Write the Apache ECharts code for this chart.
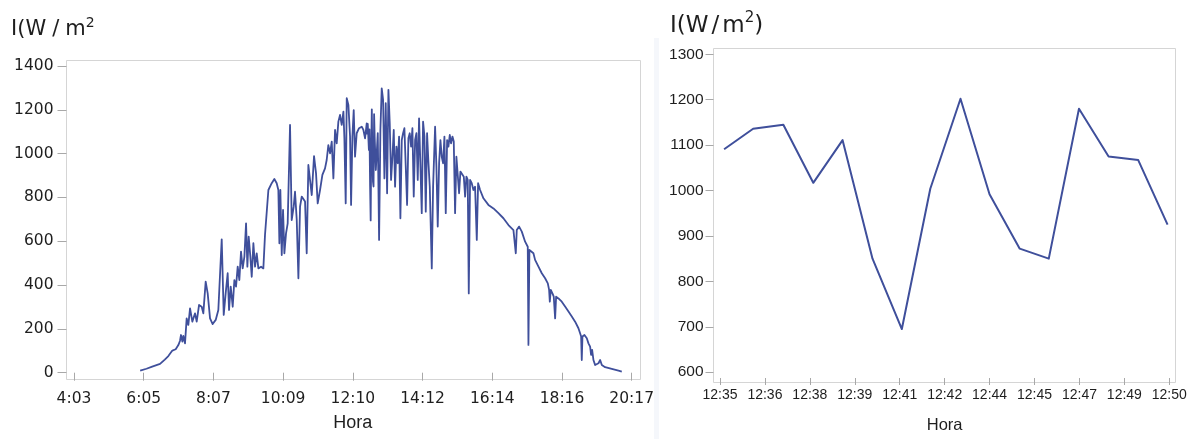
<!DOCTYPE html>
<html>
<head>
<meta charset="utf-8">
<script src="https://cdn.jsdelivr.net/npm/echarts@6/dist/echarts.min.js"></script>
<style>
html,body{margin:0;padding:0;background:#fff;}
#c{width:1197px;height:439px;}
</style>
</head>
<body>
<div id="c"></div>
<script>
// ---------- DATA ----------
// Left chart: whole day. Time in minutes after midnight, irradiance in W/m2.
const dayTime = [
  359, 370, 380, 393.7, 402, 408.2, 415.2, 421, 425.7, 428.6,
  430.3, 432.7, 434.4, 437.3, 440.2, 443.1, 446.1, 450.1, 454.8, 457.7,
  461.8, 466.4, 469.3, 473.4, 476.9, 481, 485.6, 490.9, 495.5, 498.5,
  501.4, 504.9, 508.3, 511.8, 514.2, 517.1, 520.6, 523.5, 526.4, 529.3,
  532.2, 535.1, 538, 541, 543.9, 546.2, 548.5, 551.4, 553.8, 556.7,
  559.6, 562.5, 565.4, 570.1, 574.1, 577, 580, 582.9, 588.7, 593.3,
  597.4, 600.3, 602.1, 603.8, 606.2, 608.5, 610.8, 613.7, 616.6, 620.7,
  623.6, 627.1, 629.4, 632.4, 635.3, 638.2, 641.1, 644, 646.9, 649.8,
  652.7, 655.6, 658.6, 662.6, 666.1, 669, 673.1, 677.2, 681.8, 684.7,
  687.6, 690.6, 693.5, 696.4, 699.3, 702.2, 705.1, 708, 710.9, 713.9,
  715.6, 717.9, 719.7, 722.6, 725.5, 727.3, 729.6, 731.9, 734.2, 737.1,
  741.2, 745.9, 748.8, 751.7, 754.6, 755.4, 756.4, 757.4, 758.4, 759.4,
  760.5, 761.5, 762.4, 763.5, 764.4, 765.5, 766.5, 767.5, 768.5, 769.5,
  770.5, 773.9, 776.2, 778.5, 780.8, 783.2, 785.5, 787.8, 790.2, 792.5,
  794.8, 797.1, 799.5, 801.8, 804.1, 806.5, 808.8, 811.1, 813.4, 815.8,
  818.1, 820.4, 822.8, 825.1, 827.4, 829.7, 832.1, 834.4, 836.7, 839.1,
  841.4, 843.7, 846, 848.4, 850.7, 853, 855.4, 857.7, 860, 862.3,
  864.7, 868.2, 870.5, 874, 876.3, 878.6, 881, 883.3, 885.6, 888,
  890.3, 892.6, 895, 897.3, 899.6, 901.9, 904.3, 906.6, 908.9, 911.2,
  913.6, 915.9, 918.2, 920.6, 924.1, 926.4, 928.7, 931, 932.8, 935.1,
  938, 940.9, 943.8, 946.8, 949.1, 952.6, 958.4, 967.1, 975.9, 984.6,
  993.3, 1002.1, 1010.8, 1013.7, 1014.9, 1016.6, 1020.7, 1025.4, 1031.2, 1034.1,
  1035.8, 1037, 1038.7, 1041.7, 1045.7, 1048.6, 1054.5, 1060.3, 1066.1, 1070.8,
  1073.1, 1074.3, 1076, 1078.9, 1081.2, 1083.6, 1085.3, 1089.4, 1095.2, 1101,
  1106.9, 1112.7, 1118.5, 1124.3, 1127.2, 1129, 1130.1, 1131.3, 1134.8, 1138.9,
  1141.8, 1144.7, 1146.4, 1148.2, 1150.5, 1153.4, 1156.3, 1159.3, 1162.2, 1165.1,
  1170.9, 1182.5, 1194.2, 1200
];
const dayIrr = [
  9, 18, 28, 40, 60, 76, 101, 107, 126, 146,
  172, 142, 168, 134, 248, 218, 294, 233, 271, 233,
  309, 301, 271, 416, 362, 248, 222, 241, 286, 286,
  609, 264, 362, 454, 286, 393, 301, 423, 393, 484,
  423, 553, 476, 530, 682, 484, 621, 530, 438, 591,
  484, 545, 476, 484, 476, 629, 636, 834, 865, 884,
  865, 834, 591, 834, 537, 743, 545, 636, 682, 1131,
  697, 758, 826, 697, 431, 758, 804, 811, 781, 545,
  948, 880, 811, 989, 910, 773, 834, 903, 933, 971,
  1039, 1001, 1055, 887, 1108, 1047, 1146, 1177, 1131, 1192,
  1070, 773, 1253, 1222, 1078, 766, 1078, 1199, 986, 1093,
  1116, 1123, 1108, 1070, 1138, 1091, 1136, 1145, 1017, 1111,
  850, 695, 1004, 1202, 992, 872, 850, 1180, 1075, 1067,
  925, 1093, 606, 1108, 1298, 1245, 887, 1230, 819, 1291,
  1138, 880, 986, 1108, 849, 1032, 956, 1078, 705, 1062,
  1093, 1116, 1108, 766, 1070, 1093, 1032, 1116, 804, 1062,
  1093, 880, 1161, 1154, 728, 1146, 1078, 735, 1093, 963,
  849, 476, 849, 1123, 941, 667, 956, 1062, 986, 956,
  1078, 728, 1062, 1032, 1085, 1047, 1078, 1055, 728, 986,
  994, 819, 918, 910, 895, 804, 895, 880, 362, 880,
  865, 834, 849, 606, 865, 834, 796, 766, 750, 728,
  705, 674, 651, 644, 545, 651, 667, 644, 598, 591,
  575, 127, 560, 568, 545, 515, 484, 454, 431, 408,
  378, 324, 378, 362, 347, 248, 347, 339, 324, 302,
  279, 256, 233, 203, 180, 165, 58, 165, 172, 157,
  134, 119, 81, 104, 58, 35, 35, 43, 58, 35,
  25, 17, 9, 5
];
// Right chart: 12:35 - 12:50 detail. Time in minutes after midnight.
const zoomTime = [755.39, 756.38, 757.41, 758.43, 759.43, 760.45, 761.45, 762.42,
                  763.45, 764.44, 765.47, 766.46, 767.49, 768.50, 769.51, 770.51];
const zoomIrr  = [1091, 1136, 1145, 1017, 1111, 850, 695, 1004,
                  1202, 992, 872, 850, 1180, 1075, 1067, 925];

// Tick labels
const dayTickLabels  = ['4:03', '6:05', '8:07', '10:09', '12:10', '14:12', '16:14', '18:16', '20:17'];
const zoomTickLabels = ['12:35', '12:36', '12:38', '12:39', '12:41', '12:42', '12:44', '12:45', '12:47', '12:49', '12:50'];
const dayYTicks  = [0, 200, 400, 600, 800, 1000, 1200, 1400];
const zoomYTicks = [600, 700, 800, 900, 1000, 1100, 1200, 1300];

// Axis time ranges (minutes after midnight): first tick and tick step
const DAY_STEP = 121.73, DAY_MIN = 2 * DAY_STEP;           // 4:03:28
const ZOOM_MIN = 755.25, ZOOM_STEP = ZOOM_MIN / 493;      // 12:35:15, ~1.532 min

// ---------- CHART ----------
const LINE = '#3f4f9b';
const TXT = '#1e1e1e';
const TICK = '#a8a8a8';
const FRAME = '#d5d5d5';

function pairs(xs, ys) { return xs.map((x, i) => [x, ys[i]]); }
const plain = v => String(Math.round(v));

function titleRich(size, supSize, lh, supLh, gap) {
  const base = {fontFamily: 'DejaVu Sans', fontWeight: 'normal', color: TXT};
  return {
    a: Object.assign({fontSize: size, lineHeight: lh}, base),
    p: Object.assign({fontSize: size, lineHeight: lh, padding: [0, gap, 0, gap]}, base),
    s: Object.assign({fontSize: supSize, lineHeight: supLh, verticalAlign: 'top'}, base)
  };
}

const chart = echarts.init(document.getElementById('c'), null, {renderer: 'canvas'});
const option = {
  animation: false,
  backgroundColor: '#ffffff',
  title: [
    {
      text: '{a|I(W}{p|/}{a|m}{s|2}',
      left: 11, top: 16, padding: 0,
      textStyle: {fontWeight: 'normal', rich: titleRich(21, 14, 27, 10, 6)}
    },
    {
      text: '{a|I(W}{p|/}{a|m}{s|2}{a|)}',
      left: 670, top: 11, padding: 0,
      textStyle: {fontWeight: 'normal', rich: titleRich(23, 15, 30, 12, 3)}
    }
  ],
  graphic: [
    {type: 'rect', silent: true, z: -1,
     shape: {x: 654, y: 38, width: 5, height: 401},
     style: {fill: '#f5f7fb'}},
    {type: 'rect', silent: true, z: 0,
     shape: {x: 66.5, y: 60.5, width: 574, height: 319},
     style: {fill: 'none', stroke: FRAME, lineWidth: 1}},
    {type: 'rect', silent: true, z: 0,
     shape: {x: 713.5, y: 48.5, width: 462, height: 334},
     style: {fill: 'none', stroke: FRAME, lineWidth: 1}}
  ],
  grid: [
    {left: 74, right: 565.3, top: 66, bottom: 66.3},
    {left: 720, right: 27.7, top: 54.3, bottom: 62.3}
  ],
  xAxis: [
    {
      gridIndex: 0, type: 'value',
      min: DAY_MIN, max: DAY_MIN + 8 * DAY_STEP - 1e-6, interval: DAY_STEP,
      offset: 6.8,
      name: 'Hora', nameLocation: 'middle', nameGap: 35,
      nameTextStyle: {fontFamily: 'Liberation Sans', fontSize: 18, color: TXT},
      axisLine: {show: false},
      axisTick: {show: true, length: 8, lineStyle: {color: TICK, width: 1}},
      axisLabel: {
        margin: 11, fontFamily: 'DejaVu Sans', fontSize: 15.5, color: TXT,
        showMinLabel: true, showMaxLabel: true,
        formatter: v => dayTickLabels[Math.round((v - DAY_MIN) / DAY_STEP)] || ''
      },
      splitLine: {show: false}
    },
    {
      gridIndex: 1, type: 'value',
      min: ZOOM_MIN, max: ZOOM_MIN + 10 * ZOOM_STEP - 1e-6, interval: ZOOM_STEP,
      offset: 5.8,
      name: 'Hora', nameLocation: 'middle', nameGap: 39,
      nameTextStyle: {fontFamily: 'Liberation Sans', fontSize: 16.5, color: TXT},
      axisLine: {show: false},
      axisTick: {show: true, length: 7, lineStyle: {color: TICK, width: 1}},
      axisLabel: {
        margin: 10, fontFamily: 'Liberation Sans', fontSize: 14, color: TXT,
        showMinLabel: true, showMaxLabel: true,
        formatter: v => zoomTickLabels[Math.round((v - ZOOM_MIN) / ZOOM_STEP)] || ''
      },
      splitLine: {show: false}
    }
  ],
  yAxis: [
    {
      gridIndex: 0, type: 'value',
      min: dayYTicks[0], max: dayYTicks[dayYTicks.length - 1], interval: dayYTicks[1] - dayYTicks[0],
      offset: 7.5,
      axisLine: {show: false},
      axisTick: {show: true, length: 9, lineStyle: {color: TICK, width: 1}},
      axisLabel: {margin: 13, fontFamily: 'DejaVu Sans', fontSize: 15.5, color: TXT, formatter: plain},
      splitLine: {show: false}
    },
    {
      gridIndex: 1, type: 'value',
      min: zoomYTicks[0], max: zoomYTicks[zoomYTicks.length - 1], interval: zoomYTicks[1] - zoomYTicks[0],
      offset: 6.5,
      axisLine: {show: false},
      axisTick: {show: true, length: 8, lineStyle: {color: TICK, width: 1}},
      axisLabel: {margin: 10, fontFamily: 'Liberation Sans', fontSize: 15.5, color: TXT, formatter: plain},
      splitLine: {show: false}
    }
  ],
  series: [
    {
      type: 'line', xAxisIndex: 0, yAxisIndex: 0,
      data: pairs(dayTime, dayIrr),
      showSymbol: false, symbol: 'none', smooth: false,
      lineStyle: {color: LINE, width: 1.8, join: 'round'},
      itemStyle: {color: LINE}
    },
    {
      type: 'line', xAxisIndex: 1, yAxisIndex: 1,
      data: pairs(zoomTime, zoomIrr),
      showSymbol: false, symbol: 'none', smooth: false,
      lineStyle: {color: LINE, width: 2, join: 'round'},
      itemStyle: {color: LINE}
    }
  ]
};
chart.setOption(option);
</script>
</body>
</html>
